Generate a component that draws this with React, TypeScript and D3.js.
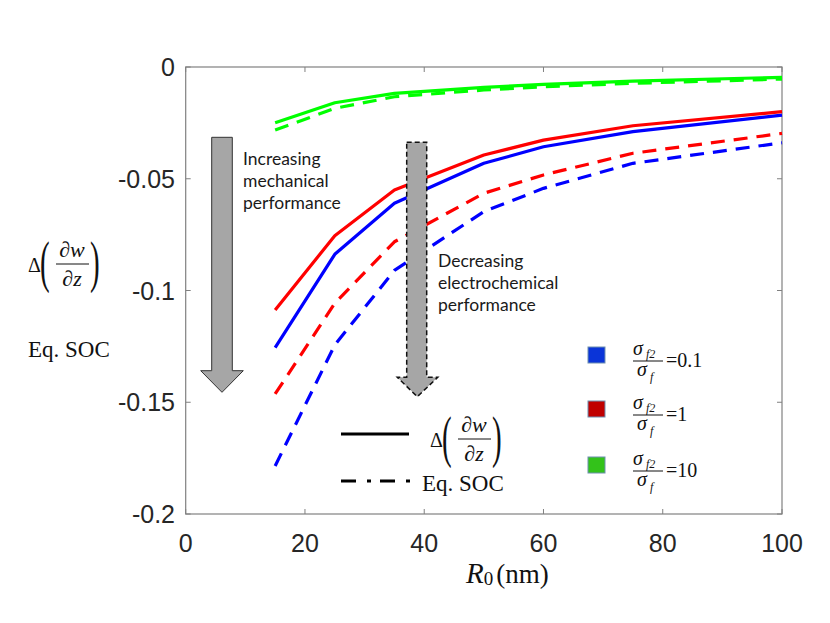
import React from "react";
import * as d3 from "d3";

const radii = [15, 25, 35, 50, 60, 75, 100];
const blueSolid = [-0.1256, -0.0838, -0.061, -0.0431, -0.0357, -0.0289, -0.0215];
const redSolid = [-0.1087, -0.0755, -0.055, -0.0394, -0.0327, -0.0263, -0.02];
const greenSolid = [-0.0249, -0.016, -0.0118, -0.0091, -0.0078, -0.0063, -0.0046];
const blueDash = [-0.1785, -0.1244, -0.091, -0.0647, -0.0543, -0.0431, -0.0339];
const redDash = [-0.1463, -0.1057, -0.0782, -0.0565, -0.0483, -0.0386, -0.0297];
const greenDash = [-0.0282, -0.0185, -0.0133, -0.0103, -0.0088, -0.0073, -0.0054];

const xTicks = [0, 20, 40, 60, 80, 100];
const yTicks = [0, -0.05, -0.1, -0.15, -0.2];
const yTickLabels = ["0", "-0.05", "-0.1", "-0.15", "-0.2"];
const ratioLabels = ["0.1", "1", "10"];
const ratioColors = ["#0a34d8", "#c00000", "#33c21a"];

const W = 830, H = 623;
const L = 185.7, R = 782, T = 67, B = 514;
const x = d3.scaleLinear().domain([0, 100]).range([L, R]);
const y = d3.scaleLinear().domain([-0.2, 0]).range([B, T]);

const serif = "'Liberation Serif', 'Times New Roman', serif";
const sans = "'Liberation Sans', Arial, Helvetica, sans-serif";
const note = "Lato, 'Open Sans', sans-serif";

function MathDelta({ x0, cy }: { x0: number; cy: number }) {
  return (
    <g fontFamily={serif} fill="#111">
      <text x={x0} y={cy + 8} fontSize={20}>Δ</text>
      <text x={x0 + 12} y={cy + 17} fontSize={58} transform={`translate(${x0 + 12},0) scale(0.5,1) translate(${-(x0 + 12)},0)`}>(</text>
      <text x={x0 + 44} y={cy - 7} fontSize={22} textAnchor="middle" fontStyle="italic">∂w</text>
      <line x1={x0 + 28} x2={x0 + 61} y1={cy} y2={cy} stroke="#111" strokeWidth={1} />
      <text x={x0 + 44} y={cy + 22} fontSize={22} textAnchor="middle" fontStyle="italic">∂z</text>
      <text x={x0 + 62} y={cy + 17} fontSize={58} transform={`translate(${x0 + 62},0) scale(0.5,1) translate(${-(x0 + 62)},0)`}>)</text>
    </g>
  );
}

function Ratio({ cy, label, color }: { cy: number; label: string; color: string }) {
  return (
    <g>
      <rect x={588} y={cy - 14} width={17} height={16} fill={color} stroke="#6f8fb0" strokeWidth={1} />
      <g fontFamily={serif} fill="#111">
        <text x={633} y={cy - 6} fontSize={20} fontStyle="italic">σ</text>
        <text x={646} y={cy - 3} fontSize={12} fontStyle="italic">f2</text>
        <line x1={633} x2={663} y1={cy} y2={cy} stroke="#111" strokeWidth={1} />
        <text x={637} y={cy + 15} fontSize={20} fontStyle="italic">σ</text>
        <text x={650} y={cy + 20} fontSize={12} fontStyle="italic">f</text>
        <text x={666} y={cy + 6} fontSize={20}>={label}</text>
      </g>
    </g>
  );
}

export default function App() {
  const line = d3.line<number>().x((_, i) => x(radii[i])).y((d) => y(d));
  const series = [
    { d: greenDash, c: "#00ff00", dash: "14 9" },
    { d: greenSolid, c: "#00ff00", dash: undefined },
    { d: blueSolid, c: "#0000ff", dash: undefined },
    { d: redSolid, c: "#ff0000", dash: undefined },
    { d: blueDash, c: "#0000ff", dash: "14 9" },
    { d: redDash, c: "#ff0000", dash: "14 9" },
  ];
  const axisColor = "#808080";
  const leftArrow = "M211.7,137.3 L232.3,137.3 L232.3,370.7 L243.3,370.7 L222,392.3 L200.7,370.7 L211.7,370.7 Z";
  const midArrow = "M406.7,142.3 L426.7,142.3 L426.7,377.3 L437.7,377.3 L417.3,396.7 L397.3,377.3 L406.7,377.3 Z";
  return (
    <svg width={W} height={H} style={{ position: "absolute", left: 0, top: 0, background: "#fff" }}>
      <rect x={0} y={0} width={W} height={H} fill="#fff" />
      <rect x={L} y={T} width={R - L} height={B - T} fill="none" stroke={axisColor} strokeWidth={1.2} />
      {xTicks.map((t) => (
        <g key={"x" + t}>
          <line x1={x(t)} x2={x(t)} y1={B} y2={B - 5} stroke={axisColor} />
          <line x1={x(t)} x2={x(t)} y1={T} y2={T + 5} stroke={axisColor} />
          <text x={x(t)} y={552} textAnchor="middle" fontFamily={sans} fontSize={25} fill="#262626">{t}</text>
        </g>
      ))}
      {yTicks.map((t, i) => (
        <g key={"y" + t}>
          <line x1={L} x2={L + 5} y1={y(t)} y2={y(t)} stroke={axisColor} />
          <line x1={R} x2={R - 5} y1={y(t)} y2={y(t)} stroke={axisColor} />
          <text x={175} y={y(t) + 9} textAnchor="end" fontFamily={sans} fontSize={25} fill="#262626">{yTickLabels[i]}</text>
        </g>
      ))}
      {series.map((s, i) => (
        <path key={i} d={line(s.d) || ""} fill="none" stroke={s.c} strokeWidth={3.2} strokeDasharray={s.dash} strokeLinejoin="round" />
      ))}
      <path d={leftArrow} fill="#a6a6a6" stroke="#333" strokeWidth={1} />
      <path d={midArrow} fill="#a6a6a6" stroke="#111" strokeWidth={1.5} strokeDasharray="5 3" />
      <g fontFamily={note} fontSize={17.5} fill="#1a1a1a">
        <text x={243} y={165}>Increasing</text>
        <text x={243} y={187}>mechanical</text>
        <text x={243} y={209}>performance</text>
        <text x={438} y={267}>Decreasing</text>
        <text x={438} y={289}>electrochemical</text>
        <text x={438} y={311}>performance</text>
      </g>
      <line x1={341} x2={409} y1={434} y2={434} stroke="#000" strokeWidth={3} />
      <MathDelta x0={430} cy={439} />
      <line x1={341} x2={416} y1={481} y2={481} stroke="#000" strokeWidth={3} strokeDasharray="15 11 4 9" />
      <text x={422} y={491} fontFamily={serif} fontSize={23} fill="#111">Eq. SOC</text>
      {ratioLabels.map((lbl, i) => (
        <Ratio key={lbl} cy={[361, 415, 471][i]} label={lbl} color={ratioColors[i]} />
      ))}
      <MathDelta x0={28} cy={264} />
      <text x={28} y={357} fontFamily={serif} fontSize={23} fill="#111">Eq. SOC</text>
      <text x={466} y={583} fontFamily={serif} fill="#111">
        <tspan fontSize={29} fontStyle="italic">R</tspan>
        <tspan fontSize={19} dy={2}>0</tspan>
        <tspan fontSize={27} dy={-2} dx={3}>(nm)</tspan>
      </text>
    </svg>
  );
}
